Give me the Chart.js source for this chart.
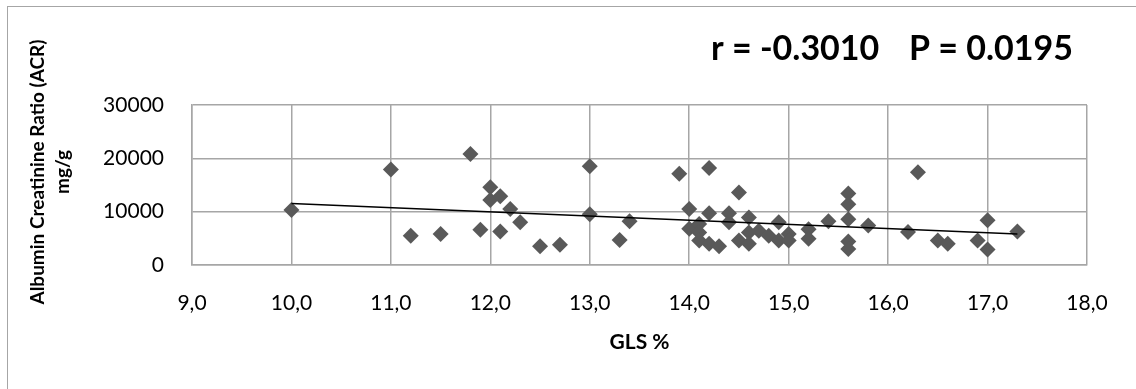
<!DOCTYPE html>
<html>
<head>
<meta charset="utf-8">
<script src="https://cdn.jsdelivr.net/npm/chart.js@4.4.1/dist/chart.umd.min.js"></script>
<style>
  html, body { margin: 0; padding: 0; background: #fff; }
  #wrap { width: 1136px; height: 389px; position: relative; }
</style>
</head>
<body>
<div id="wrap"><canvas id="chart" width="1136" height="389"></canvas></div>
<script>
// GLS % (x) and ACR mg/g (y)
const glsValues = [
  10.0, 11.0, 11.2, 11.5, 11.8, 11.9, 12.0, 12.0, 12.1, 12.1,
  12.2, 12.3, 12.5, 12.7, 13.0, 13.0, 13.3, 13.4, 13.9, 14.0,
  14.0, 14.1, 14.1, 14.1, 14.2, 14.2, 14.2, 14.3, 14.4, 14.4,
  14.5, 14.5, 14.6, 14.6, 14.6, 14.7, 14.8, 14.9, 14.9, 15.0,
  15.0, 15.2, 15.2, 15.4, 15.6, 15.6, 15.6, 15.6, 15.6, 15.8,
  16.2, 16.3, 16.5, 16.6, 16.9, 17.0, 17.0, 17.3
];
const acrValues = [
  10300, 17900, 5500, 5800, 20800, 6600, 14600, 12200, 12900, 6300,
  10500, 8000, 3500, 3800, 18500, 9500, 4700, 8200, 17100, 10500,
  6800, 7700, 6100, 4600, 18200, 9700, 4000, 3500, 9700, 8000,
  13600, 4600, 8900, 6100, 4000, 6400, 5500, 8000, 4600, 5800,
  4600, 6700, 4900, 8200, 13400, 11400, 8600, 4400, 3000, 7400,
  6200, 17400, 4600, 4000, 4600, 8400, 2900, 6300
];

// linear trend line end points
const trendX = [10.0, 17.3];
const trendY = [11530, 5820];

const xTicks = [9, 10, 11, 12, 13, 14, 15, 16, 17, 18];
const yTicks = [0, 10000, 20000, 30000];

const statsLabel = 'r = -0.3010     P = 0.0195';
const yTitleLines = ['Albumin Creatinine Ratio (ACR)', 'mg/g'];
const xTitle = 'GLS %';

const FONT = 'Lato, "Open Sans", sans-serif';

const points = glsValues.map((x, i) => ({ x: x, y: acrValues[i] }));
const trend = trendX.map((x, i) => ({ x: x, y: trendY[i] }));

// outer frame, y title and the r/P note
const extras = {
  id: 'extras',
  beforeDraw(chart) {
    const ctx = chart.ctx;
    ctx.save();
    ctx.fillStyle = '#fff';
    ctx.fillRect(0, 0, chart.width, chart.height);
    ctx.strokeStyle = '#a6a6a6';
    ctx.lineWidth = 1;
    ctx.strokeRect(7.5, 6.5, chart.width + 10, chart.height + 10);
    ctx.restore();
  },
  afterDraw(chart) {
    const ctx = chart.ctx;
    ctx.save();
    ctx.fillStyle = '#000';
    ctx.font = 'bold 34px ' + FONT;
    ctx.textBaseline = 'alphabetic';
    const parts = statsLabel.split(/\s{2,}/);
    ctx.textAlign = 'left';
    ctx.fillText(parts[0], 711, 60);
    ctx.textAlign = 'right';
    ctx.fillText(parts[1], 1073, 60);

    ctx.font = 'bold 19px ' + FONT;
    ctx.textAlign = 'center';
    ctx.textBaseline = 'middle';
    ctx.translate(38, 172);
    ctx.rotate(-Math.PI / 2);
    yTitleLines.forEach((t, i) => ctx.fillText(t, 0, i * 25));
    ctx.restore();
  }
};

new Chart(document.getElementById('chart'), {
  type: 'scatter',
  data: {
    datasets: [
      {
        label: 'ACR',
        data: points,
        pointStyle: 'rectRot',
        pointRadius: 8,
        pointHoverRadius: 8,
        backgroundColor: '#595959',
        borderColor: '#595959',
        borderWidth: 0,
        order: 2
      },
      {
        label: 'Trend',
        type: 'line',
        data: trend,
        showLine: true,
        borderColor: '#000',
        borderWidth: 1.5,
        pointRadius: 0,
        fill: false,
        order: 1
      }
    ]
  },
  options: {
    responsive: false,
    animation: false,
    devicePixelRatio: 1,
    layout: { padding: { left: 8, top: 105, right: 49, bottom: 30 } },
    plugins: {
      legend: { display: false },
      tooltip: { enabled: false }
    },
    scales: {
      x: {
        type: 'linear',
        min: 9,
        max: 18,
        afterBuildTicks: (s) => { s.ticks = xTicks.map(v => ({ value: v })); },
        afterFit: (s) => { s.height = 94; },
        grid: { color: '#a6a6a6', lineWidth: 1.5, drawTicks: false },
        border: { color: '#a6a6a6', width: 1.5 },
        ticks: {
          padding: 26,
          color: '#000',
          font: { family: FONT, size: 21 },
          callback: (v) => v.toFixed(1).replace('.', ',')
        },
        title: {
          display: true,
          text: xTitle,
          color: '#000',
          font: { family: FONT, size: 21, weight: 'bold' },
          padding: { top: 10 }
        }
      },
      y: {
        type: 'linear',
        min: 0,
        max: 30000,
        afterBuildTicks: (s) => { s.ticks = yTicks.map(v => ({ value: v })); },
        afterFit: (s) => { s.width = 184; },
        grid: { color: '#a6a6a6', lineWidth: 1.5, drawTicks: false },
        border: { color: '#a6a6a6', width: 1.5 },
        ticks: {
          padding: 28,
          color: '#000',
          font: { family: FONT, size: 21 },
          callback: (v) => String(v)
        }
      }
    }
  },
  plugins: [extras]
});
</script>
</body>
</html>
